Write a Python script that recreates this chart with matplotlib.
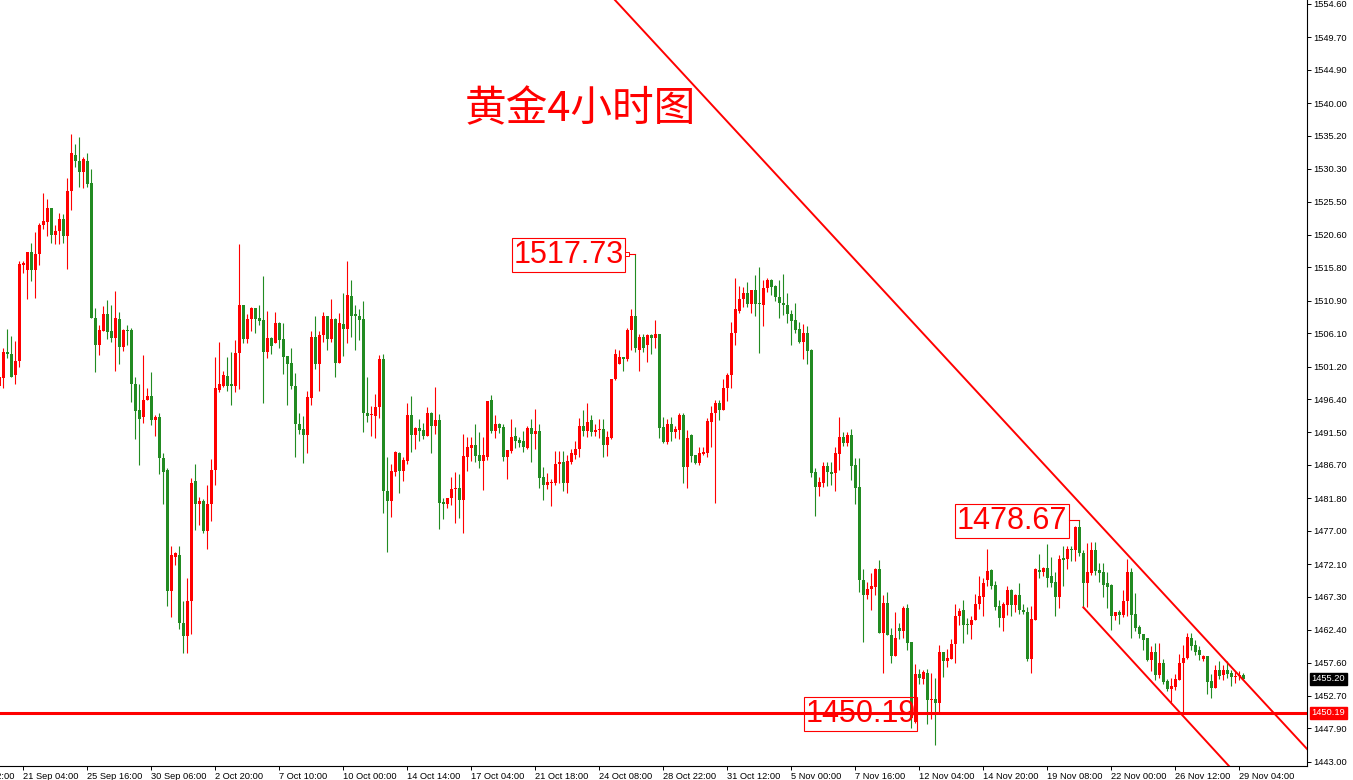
import matplotlib
matplotlib.use("Agg")
import matplotlib.pyplot as plt
import matplotlib.transforms as mtransforms
import numpy as np

# ---------------- data (gold 4h candles) ----------------
opens = [1498.4,
 1499.5,1503.3,1503.1,1499.9,1502.0,1516.1,1515.4,1518.0,1515.4,1517.8,
 1522.1,1522.5,1524.6,1520.6,1521.1,1522.9,1520.4,1527.1,1532.4,1531.5,
 1529.8,1531.5,1528.2,1508.3,1504.3,1506.5,1508.9,1506.4,1505.4,1508.2,
 1504.1,1506.6,1506.6,1498.7,1494.8,1493.8,1496.2,1496.8,1493.3,1493.8,
 1487.8,1485.9,1468.2,1473.2,1473.5,1463.4,1461.5,1466.6,1484.4,1481.0,
 1481.4,1477.0,1481.0,1485.9,1497.7,1498.4,
 1499.8,1498.6,1498.3,1503.2,1510.2,1505.3,1508.2,1509.8,1508.3,1508.0,
 1503.3,1505.4,1504.7,1507.6,1505.2,1502.7,1501.7,1498.4,1492.8,1492.0,
 1491.1,1496.6,1505.6,1501.5,1505.8,1508.6,1505.2,1508.2,1501.7,1507.4,
 1506.7,1511.6,1508.9,1508.7,1508.2,1494.4,1494.0,1493.9,1495.2,1502.3,
 1482.9,1481.4,1485.7,1488.5,1485.8,1487.3,1494.0,1491.1,1492.1,1491.8,
 1491.0,1494.4,1492.5,1493.3,1481.3,1481.0,1481.8,1483.1,
 1483.3,1481.6,1487.9,1489.2,1489.7,1488.1,1487.3,1487.9,1496.2,1491.7,
 1492.8,1492.3,1487.9,1488.7,1490.9,1490.4,1490.3,1489.2,1492.2,1491.3,
 1491.7,1484.9,1483.7,1484.1,1484.1,1486.9,1487.1,1484.1,1487.1,1488.2,
 1489.0,1492.5,1491.7,1493.3,1491.6,1491.9,1492.0,1489.6,1490.7,1499.4,
 1501.6,1502.6,1502.3,1506.6,1508.7,1503.7,1505.5,1504.3,1505.8,1505.4,
 1506.0,1492.3,1490.1,1492.8,1491.5,1491.9,1494.0,1486.4,
 1491.1,1488.1,1487.0,1488.3,1488.4,1493.0,1494.3,1495.9,1494.8,1498.0,
 1499.9,1506.2,1509.4,1511.1,1512.1,1510.4,1512.4,1510.5,1510.3,1512.8,
 1514.0,1513.0,1511.4,1510.6,1510.2,1509.0,1508.1,1506.7,1504.8,1506.2,
 1503.6,1485.6,1483.4,1484.0,1486.6,1485.7,1485.5,1488.3,1490.8,1489.9,
 1491.1,1486.7,1483.4,1469.7,1467.5,1468.4,1468.7,1471.4,1462.0,1466.4,
 1461.7,1458.6,1462.7,1462.2,1465.6,1460.6,1448.8,1455.9,
 1455.2,1456.1,1452.1,1452.3,1451.6,1459.1,1457.9,1458.1,1460.4,1464.4,
 1465.4,1463.3,1463.2,1463.8,1466.2,1467.3,1469.7,1471.2,1469.0,1465.9,
 1464.1,1466.1,1468.3,1466.1,1467.6,1465.4,1465.0,1458.1,1463.9,1471.2,
 1471.0,1471.5,1470.3,1469.4,1467.3,1473.0,1472.8,1474.3,1474.2,1477.6,
 1473.8,1469.3,1470.8,1474.2,1471.2,1471.0,1469.3,1469.0,1464.4,1465.0,
 1464.6,1466.6,1471.0,1464.8,1462.8,1461.8,1461.2,1458.0,1459.2,1455.7,
 1457.6,1454.9,1453.7,1454.0,1455.1,1457.5,1458.3,1461.2,1460.2,1459.4,
 1458.1,1458.5,1454.9,1453.9,1456.5,1455.7,1456.5,1456.0,1455.5,1455.6,
 1455.8]

highs = [1499.6,
 1504.0,1506.7,1505.7,1504.9,1516.8,1516.8,1518.0,1519.4,1521.0,1522.3,
 1526.7,1525.8,1524.6,1522.0,1523.8,1523.6,1528.9,1535.5,1533.9,1535.0,
 1532.0,1532.7,1530.3,1509.8,1507.3,1510.1,1511.0,1510.2,1512.3,1509.2,
 1506.7,1507.3,1506.9,1499.7,1498.7,1502.9,1498.1,1500.4,1494.0,1494.4,
 1488.4,1486.2,1474.8,1473.9,1474.7,1466.6,1470.1,1484.8,1486.9,1482.0,
 1481.7,1483.8,1487.6,1502.6,1504.8,1500.6,
 1502.6,1503.4,1505.1,1519.2,1510.2,1508.9,1510.0,1509.8,1510.2,1514.6,
 1509.4,1505.6,1509.2,1507.7,1507.6,1502.7,1503.9,1500.2,1494.4,1493.9,
 1497.6,1506.5,1508.6,1506.5,1509.2,1508.6,1511.2,1508.3,1509.1,1512.0,
 1516.7,1513.9,1510.2,1509.7,1510.9,1499.7,1495.4,1497.1,1502.9,1503.0,
 1487.9,1486.8,1488.8,1488.6,1487.9,1495.9,1496.8,1492.3,1493.4,1492.9,
 1495.3,1494.5,1498.2,1494.2,1481.9,1481.9,1484.9,1485.6,
 1485.4,1491.2,1490.8,1490.8,1492.8,1491.5,1490.8,1496.1,1497.0,1494.0,
 1492.9,1492.7,1488.9,1493.4,1492.3,1490.8,1491.7,1492.4,1493.5,1495.0,
 1492.8,1486.4,1485.5,1484.6,1488.7,1488.7,1488.7,1488.2,1489.0,1490.2,
 1493.6,1494.8,1495.9,1494.1,1492.7,1493.4,1493.4,1491.7,1499.4,1503.8,
 1503.7,1502.6,1506.9,1509.7,1517.73,1506.0,1506.0,1506.0,1506.0,1508.0,
 1506.0,1493.7,1493.5,1493.7,1492.5,1494.4,1494.4,1491.9,
 1491.3,1488.2,1489.3,1489.3,1493.6,1495.4,1496.3,1496.3,1499.4,1500.2,
 1507.7,1514.2,1513.0,1512.9,1513.6,1512.5,1514.7,1515.9,1513.9,1514.2,
 1514.1,1513.2,1513.9,1514.8,1512.0,1509.5,1510.5,1507.8,1507.5,1507.1,
 1503.8,1486.3,1485.0,1487.1,1487.1,1487.2,1489.4,1493.7,1491.5,1491.6,
 1492.0,1487.8,1487.7,1471.4,1469.5,1470.8,1471.5,1472.7,1467.6,1468.0,
 1462.7,1465.0,1463.4,1465.9,1466.3,1460.7,1457.4,1456.6,
 1456.5,1456.7,1456.1,1455.4,1460.2,1459.1,1459.6,1461.0,1466.2,1465.7,
 1466.8,1464.2,1464.5,1467.7,1470.4,1470.0,1474.3,1471.4,1469.6,1466.8,
 1466.5,1468.9,1468.4,1467.7,1469.3,1466.2,1465.8,1465.9,1471.5,1473.6,
 1471.7,1475.0,1473.2,1471.0,1473.4,1474.7,1474.8,1474.7,1477.7,1478.67,
 1474.2,1475.2,1475.3,1475.4,1472.2,1472.2,1471.0,1469.1,1465.1,1465.4,
 1468.3,1472.9,1471.5,1467.8,1463.1,1461.8,1461.2,1460.0,1460.5,1460.5,
 1458.2,1455.2,1455.3,1455.9,1458.9,1460.2,1462.0,1461.9,1460.9,1460.1,
 1458.7,1458.6,1455.9,1457.3,1457.8,1457.3,1457.8,1456.5,1456.3,1456.3,
 1456.0]

lows = [1498.1,
 1498.1,1502.5,1499.6,1498.6,1501.1,1515.0,1511.2,1513.8,1511.3,1516.1,
 1521.4,1520.4,1519.4,1519.2,1519.2,1519.4,1515.6,1524.3,1530.6,1527.7,
 1527.5,1527.7,1508.3,1500.4,1502.9,1506.5,1505.2,1504.8,1500.6,1501.6,
 1503.5,1504.4,1496.0,1490.6,1486.7,1492.9,1496.2,1492.6,1491.0,1485.3,
 1480.9,1465.9,1464.3,1471.9,1462.5,1459.0,1459.0,1461.8,1477.1,1477.8,
 1476.7,1474.4,1478.5,1483.8,1497.4,1498.2,
 1497.6,1495.6,1497.5,1497.9,1504.6,1504.6,1506.5,1506.2,1507.3,1495.8,
 1502.5,1503.0,1504.7,1503.9,1500.1,1495.5,1497.9,1487.9,1491.2,1487.0,
 1488.5,1495.6,1500.9,1497.6,1504.8,1503.6,1504.8,1499.7,1501.7,1502.7,
 1504.7,1505.6,1503.7,1505.1,1491.6,1493.0,1491.0,1490.7,1493.6,1479.6,
 1473.9,1479.1,1485.1,1482.6,1484.4,1486.9,1488.6,1489.0,1490.3,1490.5,
 1491.0,1488.5,1491.2,1477.2,1478.8,1480.3,1480.8,1478.2,
 1478.9,1476.7,1485.8,1487.3,1487.2,1486.3,1483.0,1487.5,1491.4,1490.7,
 1491.4,1487.3,1484.7,1488.4,1489.2,1489.3,1488.6,1489.1,1487.2,1489.1,
 1483.3,1481.6,1483.2,1480.7,1483.8,1484.1,1482.8,1482.6,1486.8,1487.6,
 1487.9,1491.0,1490.8,1490.9,1490.9,1490.7,1487.9,1488.0,1490.6,1499.2,
 1501.5,1500.5,1502.0,1503.7,1503.4,1500.5,1503.4,1501.8,1503.0,1503.9,
 1490.7,1489.9,1489.8,1490.3,1490.7,1490.5,1484.0,1483.3,
 1487.1,1486.8,1486.7,1488.2,1487.9,1489.3,1481.1,1493.3,1494.8,1496.1,
 1498.0,1504.4,1509.1,1509.9,1509.9,1509.1,1508.7,1503.2,1507.1,1512.2,
 1511.7,1510.8,1508.3,1508.8,1507.6,1504.4,1506.1,1504.6,1502.3,1501.5,
 1484.9,1479.2,1482.2,1483.5,1483.6,1483.8,1482.8,1485.9,1489.5,1489.5,
 1484.5,1481.0,1468.0,1460.6,1467.0,1465.4,1467.5,1462.0,1456.1,1461.6,
 1457.6,1458.6,1461.0,1461.2,1459.5,1447.9,1448.7,1454.4,
 1454.4,1448.5,1449.3,1445.4,1450.3,1455.5,1456.9,1458.1,1457.5,1463.2,
 1460.5,1461.8,1461.0,1463.8,1465.5,1464.4,1468.9,1468.5,1465.3,1462.8,
 1462.2,1464.6,1464.5,1465.1,1464.8,1464.7,1457.9,1456.1,1463.9,1470.0,
 1470.4,1468.8,1468.8,1464.5,1465.6,1468.9,1471.4,1472.5,1472.5,1473.3,
 1465.7,1465.8,1470.5,1470.5,1469.5,1467.3,1465.6,1462.4,1463.8,1463.3,
 1464.3,1464.5,1461.2,1462.2,1461.2,1459.5,1457.9,1456.3,1455.1,1455.3,
 1454.5,1453.4,1451.8,1453.6,1455.0,1450.2,1458.2,1459.5,1458.7,1458.0,
 1457.9,1452.9,1452.4,1453.8,1455.2,1455.0,1455.3,1454.1,1454.6,1455.1,
 1455.0]

closes = [1499.6,
 1503.4,1503.1,1499.7,1502.0,1516.3,1516.4,1518.0,1515.4,1517.7,1522.1,
 1522.7,1524.6,1520.6,1521.1,1522.9,1520.4,1527.0,1532.6,1531.4,1529.8,
 1531.7,1528.1,1508.3,1504.3,1506.6,1508.9,1506.3,1505.4,1508.3,1504.1,
 1506.6,1506.5,1498.6,1494.7,1493.4,1496.3,1496.8,1493.3,1493.8,1487.8,
 1485.7,1468.2,1473.4,1473.7,1463.4,1461.5,1466.6,1484.1,1481.0,1481.4,
 1477.0,1481.0,1485.9,1498.1,1498.6,1499.9,
 1498.3,1498.3,1503.2,1510.2,1505.3,1508.2,1509.8,1508.2,1507.9,1503.3,
 1505.4,1504.2,1507.6,1505.1,1502.6,1501.5,1498.4,1492.7,1491.8,1491.1,
 1496.7,1505.6,1501.5,1505.9,1508.6,1505.2,1508.2,1501.7,1507.6,1506.7,
 1511.7,1508.7,1508.6,1508.1,1494.3,1493.9,1494.1,1495.3,1502.3,1482.8,
 1481.4,1485.8,1488.6,1485.8,1487.4,1494.0,1491.1,1492.2,1491.7,1491.0,
 1494.4,1492.5,1493.3,1481.1,1481.0,1481.9,1483.1,1483.3,
 1481.6,1488.0,1489.3,1489.7,1488.0,1487.3,1488.1,1496.1,1491.7,1492.7,
 1492.1,1487.9,1488.9,1490.8,1490.2,1490.0,1489.3,1492.2,1491.3,1491.7,
 1484.8,1483.7,1484.2,1484.2,1486.9,1487.1,1484.1,1487.3,1488.4,1489.0,
 1492.5,1491.7,1493.1,1491.6,1491.9,1492.0,1489.6,1490.8,1499.4,1503.0,
 1502.6,1502.3,1506.6,1508.7,1503.9,1505.5,1504.0,1505.8,1505.4,1506.0,
 1492.2,1490.1,1492.8,1491.6,1492.0,1494.0,1486.4,1490.7,
 1488.0,1487.0,1488.4,1488.6,1493.2,1494.3,1495.9,1494.8,1498.1,1500.0,
 1506.2,1509.6,1511.2,1512.1,1510.4,1512.4,1510.4,1510.4,1512.8,1514.0,
 1512.9,1511.4,1510.5,1510.2,1508.9,1507.9,1506.6,1504.8,1506.2,1503.5,
 1485.5,1483.4,1484.2,1486.6,1485.7,1485.4,1488.4,1490.8,1489.9,1491.1,
 1486.6,1483.3,1469.7,1467.5,1468.5,1468.9,1471.4,1462.0,1466.4,1461.6,
 1458.6,1461.2,1462.2,1465.6,1460.5,1449.5,1455.9,1455.3,
 1456.2,1452.1,1452.2,1451.7,1459.1,1457.9,1458.3,1460.4,1464.5,1465.2,
 1463.2,1463.2,1463.9,1466.2,1467.4,1469.3,1471.1,1468.9,1465.8,1464.1,
 1466.2,1468.3,1466.1,1467.6,1465.3,1465.0,1458.1,1464.0,1471.4,1471.0,
 1471.5,1470.1,1469.3,1467.3,1472.9,1472.7,1474.3,1474.2,1477.6,1473.8,
 1469.3,1471.0,1474.2,1471.1,1470.8,1469.0,1468.7,1464.4,1465.0,1464.6,
 1466.7,1471.0,1464.6,1462.7,1461.8,1460.9,1458.0,1459.2,1455.8,1457.6,
 1454.8,1453.7,1454.1,1455.2,1457.6,1458.3,1461.3,1460.1,1459.2,1458.7,
 1458.5,1454.8,1453.9,1456.5,1455.6,1456.5,1455.9,1455.5,1455.6,1455.8,
 1455.2]

# time-axis labels and their bar positions
time_labels = ["18 Sep 12:00", "21 Sep 04:00", "25 Sep 16:00", "30 Sep 06:00", "2 Oct 20:00",
               "7 Oct 10:00", "10 Oct 00:00", "14 Oct 14:00", "17 Oct 04:00",
               "21 Oct 18:00", "24 Oct 08:00", "28 Oct 22:00", "31 Oct 12:00",
               "5 Nov 00:00", "7 Nov 16:00", "12 Nov 04:00", "14 Nov 20:00",
               "19 Nov 08:00", "22 Nov 00:00", "26 Nov 12:00", "29 Nov 04:00"]
time_label_bars = [-10.1, 5.9, 21.9, 37.9, 53.9, 69.9, 85.9, 101.9, 117.9, 133.9, 149.9,
                   165.9, 181.9, 197.9, 213.9, 229.9, 245.9, 261.9, 277.9, 293.9, 309.9]

price_ticks = [1554.60, 1549.70, 1544.90, 1540.00, 1535.20, 1530.30, 1525.50, 1520.60,
               1515.80, 1510.90, 1506.10, 1501.20, 1496.40, 1491.50, 1486.70, 1481.80,
               1477.00, 1472.10, 1467.30, 1462.40, 1457.60, 1452.70, 1447.90, 1443.00]

support_level = 1450.19
last_price = 1455.20

# marked extremes: (bar, price) and label anchor (bar, price)
marked_bars = [159, 270, 229]
marked_prices = [1517.73, 1478.67, 1450.19]
label_bars = [142.3, 253.2, 215.3]
label_prices = [1517.6, 1478.5, 1450.0]

# trend lines (bar, price) end points
upper_line_bars = [153.9, 327.0]
upper_line_prices = [1555.18, 1444.83]
lower_line_bars = [271.0, 310.0]
lower_line_prices = [1465.74, 1440.7]

title_text = "黄金4小时图"

# ---------------- drawing ----------------
plt.rcParams['font.family'] = ['Liberation Sans', 'DejaVu Sans']

RED = '#FF0000'
GREEN = '#228B22'

fig = plt.figure(figsize=(13.53, 7.80), dpi=100)
W, H = 1353.0, 780.0
ax = fig.add_axes([0, 14 / H, 1307.3 / W, 766 / H])

o = np.array(opens); h = np.array(highs); l = np.array(lows); c = np.array(closes)
idx = np.arange(len(o))
cols = np.where(c >= o, RED, GREEN)

ax.vlines(idx, l, h, colors=cols, linewidth=0.8, zorder=2)
ax.bar(idx, np.maximum(np.abs(c - o), 0.15), bottom=np.minimum(o, c), width=0.75,
       color=cols, linewidth=0, zorder=3)

ax.set_xlim(0.17, 326.99)
ax.set_ylim(1442.37, 1555.18)

# support and trend lines
ax.axhline(support_level, color=RED, linewidth=2.2, zorder=6)
ax.plot(upper_line_bars, upper_line_prices, color=RED, linewidth=1.4, zorder=6)
ax.plot(lower_line_bars, lower_line_prices, color=RED, linewidth=1.4, zorder=6)

# labelled extremes
for mb, mp, lb, lp in zip(marked_bars, marked_prices, label_bars, label_prices):
    ax.text(lb, lp, f"{mp:.2f}", fontsize=22, color=RED, ha='center', va='center',
            bbox=dict(boxstyle='square,pad=0.06', fc='none', ec=RED, lw=0.8), zorder=7)
ax.plot([157.0, marked_bars[0]], [marked_prices[0]] * 2, color=RED, lw=0.8, zorder=7)
ax.plot([157.0], [marked_prices[0]], marker='s', ms=2.6, mfc='white', mec=RED, mew=0.7, zorder=8)
ax.plot([267.3, marked_bars[1]], [marked_prices[1]] * 2, color=RED, lw=0.8, zorder=7)

# title
ax.text(0.4437, 0.8564, title_text, transform=ax.transAxes, fontsize=30, color=RED,
        ha='center', va='center', family=['Noto Sans CJK SC', 'DejaVu Sans'])

# axes styling
for s in ('top', 'left'):
    ax.spines[s].set_visible(False)
for s in ('right', 'bottom'):
    ax.spines[s].set_linewidth(0.8)
ax.yaxis.tick_right()
ax.set_yticks(price_ticks)
ax.set_yticklabels([f"{v:.2f}" for v in price_ticks])
ax.tick_params(axis='y', direction='out', length=2.6, width=0.7, pad=1.5, labelsize=6.7)

ax.set_xticks(time_label_bars[1:])
ax.set_xticklabels(time_labels[1:], ha='left')
ax.tick_params(axis='x', direction='out', length=2.6, width=0.7, pad=1.8, labelsize=6.7)
for t in ax.get_xticklabels():
    t.set_horizontalalignment('left')
# partially hidden first time label at the left edge (cut by the picture edge, as in the original)
ax.text(time_label_bars[0], -0.0078, time_labels[0],
        transform=mtransforms.blended_transform_factory(ax.transData, ax.transAxes),
        fontsize=6.7, ha='left', va='top', clip_on=False)

# price boxes on the right axis
bt = mtransforms.blended_transform_factory(ax.transAxes, ax.transData)
ax.text(1.0032, last_price, f"{last_price:.2f}", transform=bt, fontsize=6.7, color='white',
        ha='left', va='center', clip_on=False,
        bbox=dict(boxstyle='square,pad=0.2', fc='black', ec='black'), zorder=9)
ax.text(1.0032, support_level, f"{support_level:.2f}", transform=bt, fontsize=6.7, color='white',
        ha='left', va='center', clip_on=False,
        bbox=dict(boxstyle='square,pad=0.2', fc=RED, ec=RED), zorder=9)

fig.savefig("out.png", dpi=100)
